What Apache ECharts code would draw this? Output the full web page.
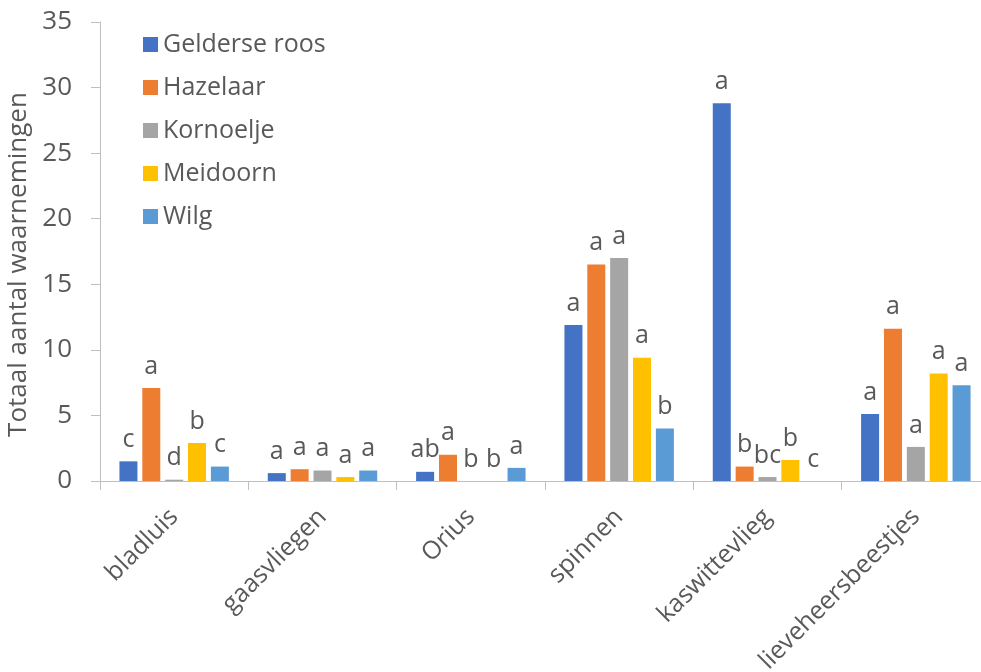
<!DOCTYPE html>
<html>
<head>
<meta charset="utf-8">
<script src="https://cdn.jsdelivr.net/npm/echarts@6/dist/echarts.min.js"></script>
<style>
  html, body { margin: 0; padding: 0; background: #ffffff; }
  #chart { width: 981px; height: 672px; }
</style>
</head>
<body>
<div id="chart"></div>
<script>
const categories = ["bladluis", "gaasvliegen", "Orius", "spinnen", "kaswittevlieg", "lieveheersbeestjes"];
const seriesNames = ["Gelderse roos", "Hazelaar", "Kornoelje", "Meidoorn", "Wilg"];

const geldersRoos = [1.5, 0.6, 0.7, 11.9, 28.8, 5.1];
const hazelaar = [7.1, 0.9, 2.0, 16.5, 1.1, 11.6];
const kornoelje = [0.1, 0.8, 0, 17.0, 0.3, 2.6];
const meidoorn = [2.9, 0.3, 0, 9.4, 1.6, 8.2];
const wilg = [1.1, 0.8, 1.0, 4.0, 0, 7.3];

// significance letters shown above each bar
const lettersGelderseRoos = ["c", "a", "ab", "a", "a", "a"];
const lettersHazelaar = ["a", "a", "a", "a", "b", "a"];
const lettersKornoelje = ["d", "a", "b", "a", "bc", "a"];
const lettersMeidoorn = ["b", "a", "b", "a", "b", "a"];
const lettersWilg = ["c", "a", "a", "b", "c", "a"];

const yTicks = [0, 5, 10, 15, 20, 25, 30, 35];

const values = [geldersRoos, hazelaar, kornoelje, meidoorn, wilg];
const letters = [lettersGelderseRoos, lettersHazelaar, lettersKornoelje, lettersMeidoorn, lettersWilg];
const colors = ["#4472C4", "#ED7D31", "#A5A5A5", "#FFC000", "#5B9BD5"];

const textColor = "#595959";
const fontFamily = '"Open Sans", "Noto Sans", sans-serif';

const chart = echarts.init(document.getElementById("chart"));
chart.setOption({
  animation: false,
  backgroundColor: "#ffffff",
  textStyle: { fontFamily, color: textColor },
  grid: { left: 100, top: 22, width: 890, bottom: 191, containLabel: false, outerBoundsMode: "none" },
  legend: {
    orient: "vertical",
    left: 138,
    top: 27,
    icon: "rect",
    itemWidth: 15,
    itemHeight: 15,
    itemGap: 18,
    textStyle: { fontFamily, color: textColor, fontSize: 25 },
    data: seriesNames,
  },
  xAxis: {
    type: "category",
    data: categories,
    axisLine: { lineStyle: { color: "#BFBFBF", width: 1 } },
    axisTick: { show: true, length: 9, lineStyle: { color: "#BFBFBF" } },
    axisLabel: { color: textColor, fontFamily, fontSize: 25, rotate: 45, margin: 32, interval: 0 },
  },
  yAxis: {
    type: "value",
    min: yTicks[0],
    max: yTicks[yTicks.length - 1],
    interval: 5,
    name: "Totaal aantal waarnemingen",
    nameLocation: "middle",
    nameGap: 63,
    nameTextStyle: { color: textColor, fontFamily, fontSize: 26, padding: [0, 26, 0, 0] },
    axisLine: { show: true, lineStyle: { color: "#BFBFBF", width: 1 } },
    axisTick: { show: true, length: 9, lineStyle: { color: "#BFBFBF" } },
    axisLabel: { color: textColor, fontFamily, fontSize: 26, margin: 28 },
    splitLine: { show: false },
  },
  series: seriesNames.map((name, i) => ({
    name,
    type: "bar",
    data: values[i],
    barWidth: 18,
    barGap: "27%",
    itemStyle: { color: colors[i] },
    label: {
      show: true,
      position: "top",
      distance: 9,
      color: textColor,
      fontFamily,
      fontSize: 25,
      formatter: p => letters[i][p.dataIndex],
    },
  })),
});
</script>
</body>
</html>
